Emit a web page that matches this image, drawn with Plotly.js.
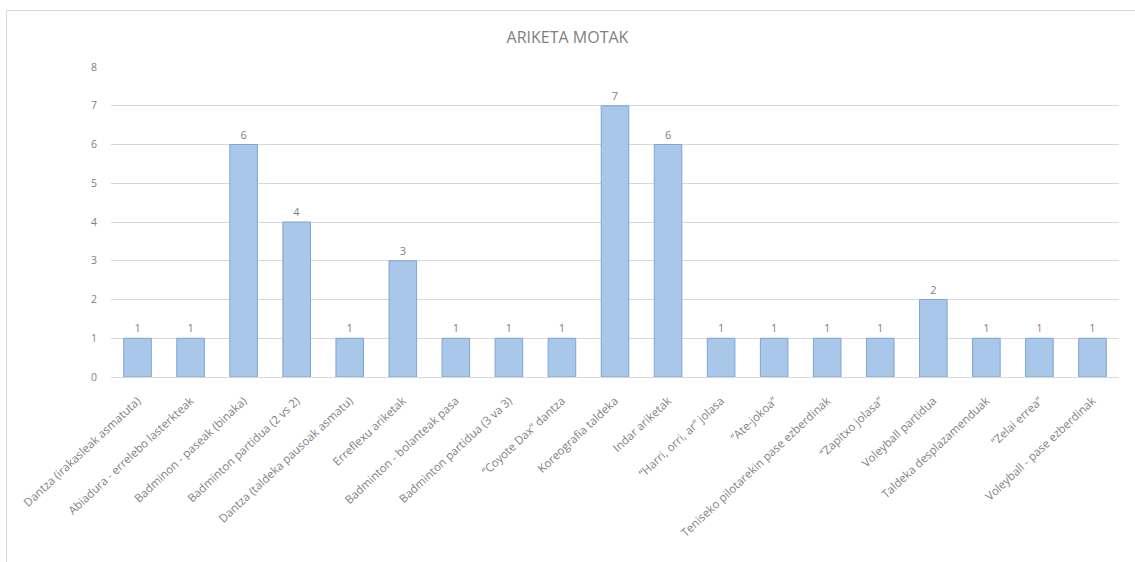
<!DOCTYPE html>
<html>
<head>
<meta charset="utf-8">
<script src="https://cdn.plot.ly/plotly-3.0.1.min.js"></script>
<style>
  html, body { margin: 0; padding: 0; background: #fff; }
  #wrap { position: relative; width: 1135px; height: 562px; }
  #chart { width: 1135px; height: 562px; }
  #frame { position: absolute; left: 6px; top: 10px; right: 0; bottom: 0;
           border-left: 1px solid #d9d9d9; border-top: 1px solid #d9d9d9; pointer-events: none; }
</style>
</head>
<body>
<div id="wrap">
  <div id="chart"></div>
  <div id="frame"></div>
</div>
<script>
const categories = [
  "Dantza (irakasleak asmatuta)",
  "Abiadura - errelebo lasterkteak",
  "Badminon - paseak (binaka)",
  "Badminton partidua (2 vs 2)",
  "Dantza (taldeka pausoak asmatu)",
  "Erreflexu ariketak",
  "Badminton - bolanteak pasa",
  "Badminton partidua (3 va 3)",
  "“Coyote Dax” dantza",
  "Koreografia taldeka",
  "Indar ariketak",
  "“Harri, orri, ar” jolasa",
  "“Ate-jokoa”",
  "Teniseko pilotarekin pase ezberdinak",
  "“Zapitxo jolasa”",
  "Voleyball partidua",
  "Taldeka desplazamenduak",
  "“Zelai errea”",
  "Voleyball - pase ezberdinak"
];
const values = [1, 1, 6, 4, 1, 3, 1, 1, 1, 7, 6, 1, 1, 1, 1, 2, 1, 1, 1];
const yTicks = [0, 1, 2, 3, 4, 5, 6, 7, 8];

const FONT = 'Open Sans, Liberation Sans, sans-serif';

const trace = {
  type: 'bar',
  x: categories,
  y: values,
  text: values.map(String),
  textposition: 'outside',
  cliponaxis: false,
  textfont: { family: FONT, size: 11, color: '#7f7f7f' },
  marker: { color: '#a9c7e9', line: { color: '#7ea5d5', width: 1 } },
  hoverinfo: 'x+y'
};

const layout = {
  width: 1135, height: 562,
  margin: { l: 110.5, r: 15.5, t: 67, b: 185 },
  paper_bgcolor: '#ffffff', plot_bgcolor: '#ffffff',
  title: { text: 'ARIKETA MOTAK', x: 0.5, xanchor: 'center', y: 0.934, yanchor: 'middle',
           font: { family: FONT, size: 16, color: '#7f7f7f' } },
  bargap: 0.48,
  showlegend: false,
  xaxis: {
    type: 'category',
    tickangle: -43,
    tickfont: { family: FONT, size: 11.5, color: '#7f7f7f' },
    showgrid: false, showline: false, zeroline: false, ticks: '',
    ticklabelstandoff: 14,
    automargin: false, fixedrange: true
  },
  yaxis: {
    range: [0, 8],
    tickvals: yTicks,
    ticktext: yTicks.map(String),
    tickfont: { family: FONT, size: 10.5, color: '#7f7f7f' },
    showgrid: true, gridcolor: '#d9d9d9', gridwidth: 1,
    zeroline: true, zerolinecolor: '#d9d9d9', zerolinewidth: 1,
    showline: false, ticks: '', ticklabelstandoff: 13,
    automargin: false, fixedrange: true
  }
};

Plotly.newPlot('chart', [trace], layout, { displayModeBar: false, staticPlot: true });
</script>
</body>
</html>
